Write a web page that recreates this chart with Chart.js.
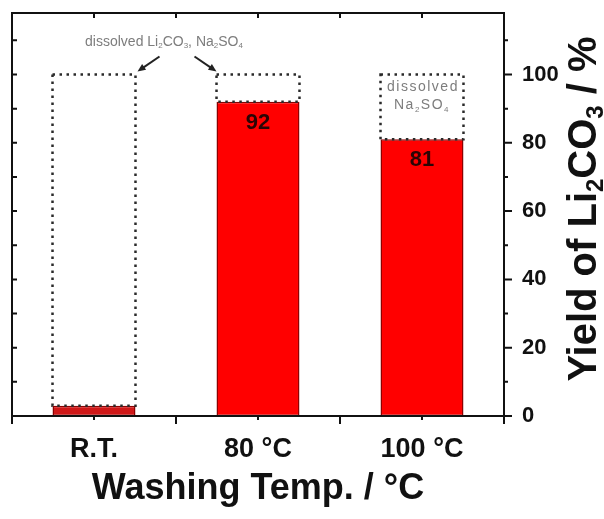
<!DOCTYPE html>
<html><head><meta charset="utf-8">
<script src="https://cdn.jsdelivr.net/npm/chart.js@4.4.1/dist/chart.umd.min.js"></script>
<style>html,body{margin:0;padding:0;background:#fff;}</style>
</head><body>
<canvas id="c" width="604" height="519"></canvas>
<script>
// ---- data ----
const categories = ['R.T.', '80 °C', '100 °C'];
const yieldValues = [3, 92, 81];
const dissolvedTop = [100, 100, 100];
const yieldLabels = ['', '92', '81'];
const yTicks = [0, 20, 40, 60, 80, 100];
const yMinorTicks = [10, 30, 50, 70, 90, 110];
const yLeftTicks = [10, 20, 30, 40, 50, 60, 70, 80, 90, 100, 110];
const yMax = 118;
const xTitle = 'Washing Temp. / °C';
const yTitleParts = [['Yield of Li', 0], ['2', 1], ['CO', 0], ['3', 1], [' / %', 0]];
const noteTopParts = [['dissolved Li', 0], ['2', 1], ['CO', 0], ['3', 1], [', Na', 0], ['2', 1], ['SO', 0], ['4', 1]];
const noteBoxLine1 = [['dissolved', 0]];
const noteBoxLine2 = [['Na', 0], ['2', 1], ['SO', 0], ['4', 1]];
const barColors = ['#d01818', '#ff0000', '#ff0000'];

const FAM = '"Liberation Sans", Arial, Helvetica, sans-serif';

function richWidth(ctx, parts, size, weight) {
  let w = 0;
  parts.forEach(([t, sub]) => {
    ctx.font = `${weight} ${sub ? Math.round(size * 0.6) : size}px ${FAM}`;
    w += ctx.measureText(t).width;
  });
  return w;
}
function drawRich(ctx, parts, cx, cy, size, weight, color) {
  ctx.save();
  ctx.fillStyle = color;
  ctx.textBaseline = 'middle';
  ctx.textAlign = 'left';
  let x = cx - richWidth(ctx, parts, size, weight) / 2;
  parts.forEach(([t, sub]) => {
    const s = sub ? Math.round(size * 0.6) : size;
    ctx.font = `${weight} ${s}px ${FAM}`;
    ctx.fillText(t, x, cy + (sub ? size * 0.28 : 0));
    x += ctx.measureText(t).width;
  });
  ctx.restore();
}
function arrow(ctx, x1, y1, x2, y2) {
  const ang = Math.atan2(y2 - y1, x2 - x1);
  const hl = 8, hw = 3.5;
  ctx.beginPath();
  ctx.moveTo(x1, y1);
  ctx.lineTo(x2 - hl * 0.7 * Math.cos(ang), y2 - hl * 0.7 * Math.sin(ang));
  ctx.stroke();
  ctx.beginPath();
  ctx.moveTo(x2, y2);
  ctx.lineTo(x2 - hl * Math.cos(ang) + hw * Math.sin(ang), y2 - hl * Math.sin(ang) - hw * Math.cos(ang));
  ctx.lineTo(x2 - hl * Math.cos(ang) - hw * Math.sin(ang), y2 - hl * Math.sin(ang) + hw * Math.cos(ang));
  ctx.closePath();
  ctx.fill();
}

const framePlugin = {
  id: 'frame',
  afterDatasetsDraw(chart) {
    const { ctx, chartArea: a, scales: { x, y } } = chart;
    const dMeta = chart.getDatasetMeta(1);
    const boxes = dMeta.data.map(el => {
      const p = el.getProps(['x', 'y', 'base', 'width'], true);
      return { l: p.x - p.width / 2, r: p.x + p.width / 2, t: p.y, b: p.base, cx: p.x };
    });
    ctx.save();
    ctx.strokeStyle = '#2a2a2a';
    ctx.lineWidth = 2.5;
    ctx.setLineDash([2.5, 4.5]);
    boxes.forEach(b => ctx.strokeRect(b.l, b.t, b.r - b.l, b.b - b.t));
    ctx.restore();

    const yMeta = chart.getDatasetMeta(0);
    ctx.save();
    ctx.fillStyle = '#2a0505';
    ctx.font = `bold 22px ${FAM}`;
    ctx.textAlign = 'center';
    ctx.textBaseline = 'middle';
    yMeta.data.forEach((el, i) => {
      if (!yieldLabels[i]) return;
      const p = el.getProps(['x', 'y'], true);
      ctx.fillText(yieldLabels[i], p.x, p.y + 21);
    });
    ctx.restore();

    const noteX = x.getPixelForValue(0.5) - 12;
    const noteY = y.getPixelForValue(109.5);
    drawRich(ctx, noteTopParts, noteX, noteY, 14, 'normal', '#7d7d7d');
    ctx.save();
    ctx.strokeStyle = '#222'; ctx.fillStyle = '#222'; ctx.lineWidth = 2;
    arrow(ctx, boxes[0].r + 24, boxes[0].t - 18, boxes[0].r + 2, boxes[0].t - 3);
    arrow(ctx, boxes[1].l - 22, boxes[1].t - 18, boxes[1].l, boxes[1].t - 3);
    ctx.restore();
    ctx.save();
    ctx.letterSpacing = '1.5px';
    drawRich(ctx, noteBoxLine1, boxes[2].cx + 1, boxes[2].t + 13, 14, 'normal', '#7d7d7d');
    drawRich(ctx, noteBoxLine2, boxes[2].cx, boxes[2].t + 31, 14, 'normal', '#7d7d7d');
    ctx.restore();

    ctx.save();
    ctx.strokeStyle = '#111';
    ctx.lineWidth = 2;
    ctx.strokeRect(a.left, a.top, a.right - a.left, a.bottom - a.top);
    ctx.beginPath();
    yLeftTicks.forEach(v => { const py = y.getPixelForValue(v); ctx.moveTo(a.left, py); ctx.lineTo(a.left + 5, py); });
    yTicks.forEach(v => { const py = y.getPixelForValue(v); ctx.moveTo(a.right, py); ctx.lineTo(a.right + 8, py); });
    yMinorTicks.forEach(v => { const py = y.getPixelForValue(v); ctx.moveTo(a.right, py); ctx.lineTo(a.right + 4, py); });
    [0, 0.5, 1, 1.5, 2].forEach(v => { const px = x.getPixelForValue(v); ctx.moveTo(px, a.top); ctx.lineTo(px, a.top + 5); });
    [-0.5, 0.5, 1.5, 2.5].forEach(v => { const px = x.getPixelForValue(v); ctx.moveTo(px, a.bottom); ctx.lineTo(px, a.bottom + 8); });
    [0, 1, 2].forEach(v => { const px = x.getPixelForValue(v); ctx.moveTo(px, a.bottom); ctx.lineTo(px, a.bottom + 4); });
    ctx.stroke();
    ctx.restore();

    ctx.save();
    ctx.translate(585, 209);
    ctx.rotate(-Math.PI / 2);
    drawRich(ctx, yTitleParts, 0, 0, 40, 'bold', '#111');
    ctx.restore();
  }
};

new Chart(document.getElementById('c'), {
  type: 'bar',
  data: {
    labels: categories,
    datasets: [
      { label: 'Yield', data: yieldValues, backgroundColor: barColors, borderColor: '#8e0000',
        borderWidth: 1.5, borderSkipped: false, barPercentage: 0.506, categoryPercentage: 1, grouped: false, order: 2 },
      { label: 'Dissolved', data: yieldValues.map((v, i) => [v, dissolvedTop[i]]), backgroundColor: 'rgba(0,0,0,0)',
        borderWidth: 0, barPercentage: 0.506, categoryPercentage: 1, grouped: false, order: 1 }
    ]
  },
  options: {
    responsive: false,
    animation: false,
    devicePixelRatio: 1,
    layout: { padding: { left: 12, top: 13, right: 0, bottom: 0 } },
    plugins: { legend: { display: false }, tooltip: { enabled: false } },
    scales: {
      x: {
        type: 'category', offset: true,
        grid: { display: false, drawTicks: false }, border: { display: false },
        ticks: { color: '#111', font: { family: FAM, size: 27, weight: 'bold' }, padding: 17, maxRotation: 0, autoSkip: false },
        title: { display: true, text: xTitle, color: '#111', font: { family: FAM, size: 36, weight: 'bold' }, padding: { top: 0, bottom: 8 } },
        afterFit(s) { s.height = 103; s.paddingLeft = 0; s.paddingRight = 0; }
      },
      y: {
        position: 'right', min: 0, max: yMax,
        afterBuildTicks(s) { s.ticks = yTicks.map(v => ({ value: v })); },
        grid: { display: false, drawTicks: false }, border: { display: false },
        ticks: { color: '#111', font: { family: FAM, size: 22, weight: 'bold' }, padding: 18 },
        afterFit(s) { s.width = 100; s.paddingTop = 0; s.paddingBottom = 0; }
      }
    }
  },
  plugins: [framePlugin]
});
</script>
</body></html>
